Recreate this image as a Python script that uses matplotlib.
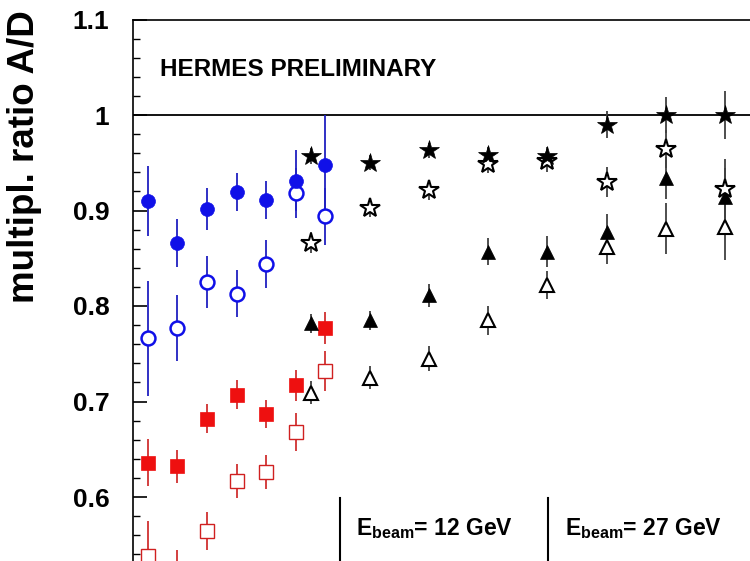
import matplotlib
matplotlib.use("Agg")
import matplotlib.pyplot as plt
from matplotlib.lines import Line2D
from matplotlib.ticker import MultipleLocator

plt.rcParams['font.family'] = ['Liberation Sans', 'DejaVu Sans']
plt.rcParams['mathtext.fontset'] = 'custom'
plt.rcParams['mathtext.rm'] = 'Liberation Sans:bold'
plt.rcParams['mathtext.bf'] = 'Liberation Sans:bold'
plt.rcParams['mathtext.it'] = 'Liberation Sans:bold'

# ---- data ----
nu12 = [2.5, 3.5, 4.5, 5.5, 6.5, 7.5, 8.5]
nu27 = [8, 10, 12, 14, 16, 18, 20, 22]

circ_filled = [0.910, 0.866, 0.902, 0.919, 0.911, 0.931, 0.948]
circ_filled_err = [0.037, 0.025, 0.022, 0.020, 0.020, 0.032, 0.052]
circ_open = [0.766, 0.777, 0.825, 0.813, 0.844, 0.918, 0.894]
circ_open_err = [0.060, 0.035, 0.027, 0.025, 0.025, 0.026, 0.030]
sq_filled = [0.636, 0.632, 0.682, 0.707, 0.687, 0.717, 0.777]
sq_filled_err = [0.025, 0.017, 0.015, 0.015, 0.015, 0.016, 0.017]
sq_open = [0.538, 0.520, 0.564, 0.617, 0.626, 0.668, 0.732]
sq_open_err = [0.037, 0.025, 0.020, 0.018, 0.018, 0.020, 0.021]

star_filled = [0.957, 0.950, 0.963, 0.958, 0.957, 0.990, 1.000, 1.000]
star_filled_err = [0.008, 0.008, 0.008, 0.008, 0.010, 0.014, 0.019, 0.025]
star_open = [0.866, 0.903, 0.921, 0.949, 0.952, 0.930, 0.964, 0.923]
star_open_err = [0.011, 0.010, 0.010, 0.010, 0.012, 0.016, 0.020, 0.031]
tri_filled = [0.782, 0.785, 0.811, 0.857, 0.857, 0.878, 0.934, 0.914]
tri_filled_err = [0.010, 0.010, 0.012, 0.014, 0.016, 0.018, 0.022, 0.030]
tri_open = [0.709, 0.725, 0.745, 0.785, 0.822, 0.862, 0.881, 0.883]
tri_open_err = [0.012, 0.012, 0.013, 0.015, 0.015, 0.018, 0.027, 0.035]

yticks = [0.6, 0.7, 0.8, 0.9, 1.0, 1.1]
ytick_labels = ['0.6', '0.7', '0.8', '0.9', '1', '1.1']

# ---- figure ----
W, H = 750, 561
fig = plt.figure(figsize=(W / 100, H / 100), dpi=100)
ax_left, ax_right = 133, 133 + 22 * 29.6
ax_top, ax_bot = 19.5, 19.5 + 6 * 95.5
ax = fig.add_axes([ax_left / W, (H - ax_bot) / H,
                   (ax_right - ax_left) / W, (ax_bot - ax_top) / H])
ax.set_xlim(2, 24)
ax.set_ylim(0.5, 1.1)

ax.axhline(1.0, color='black', lw=1.3, zorder=1)

blue = '#1010e8'
red = '#ee1010'
ebar_kw = dict(ls='none', elinewidth=1.3, capsize=0, zorder=3)

ax.errorbar(nu12, sq_open, yerr=sq_open_err, fmt='s', ms=9.5, mfc='white',
            mec='#d02020', mew=1.0, ecolor='#d03030', **ebar_kw)
ax.errorbar(nu12, sq_filled, yerr=sq_filled_err, fmt='s', ms=9.5, mfc=red,
            mec=red, mew=0.5, ecolor='#d03030', **ebar_kw)
ax.errorbar(nu12, circ_open, yerr=circ_open_err, fmt='o', ms=10, mfc='white',
            mec=blue, mew=1.8, ecolor='#2020c0', **ebar_kw)
ax.errorbar(nu12, circ_filled, yerr=circ_filled_err, fmt='o', ms=10, mfc=blue,
            mec=blue, mew=0.5, ecolor='#2020c0', **ebar_kw)

ax.errorbar(nu27, tri_open, yerr=tri_open_err, fmt='^', ms=10, mfc='white',
            mec='black', mew=1.5, ecolor='#404040', **ebar_kw)
ax.errorbar(nu27, tri_filled, yerr=tri_filled_err, fmt='^', ms=10, mfc='black',
            mec='black', mew=0.5, ecolor='#404040', **ebar_kw)
ax.errorbar(nu27, star_open, yerr=star_open_err, fmt='*', ms=15, mfc='white',
            mec='black', mew=1.5, ecolor='#404040', **ebar_kw)
ax.errorbar(nu27, star_filled, yerr=star_filled_err, fmt='*', ms=15, mfc='black',
            mec='black', mew=0.5, ecolor='#404040', **ebar_kw)

# ticks
ax.set_yticks(yticks)
ax.set_yticklabels(ytick_labels, fontsize=19, fontweight='bold')
ax.yaxis.set_minor_locator(MultipleLocator(0.02))
ax.tick_params(axis='y', which='major', direction='in', length=10, width=1.2, pad=17)
ax.tick_params(axis='y', which='minor', direction='in', length=5, width=1.0)
ax.tick_params(axis='x', labelbottom=False, direction='in')
for s in ax.spines.values():
    s.set_linewidth(1.2)

ax.text((160 - ax_left) / (ax_right - ax_left), (ax_bot - 76) / (ax_bot - ax_top),
        'HERMES PRELIMINARY', transform=ax.transAxes, fontsize=17.5,
        fontweight='bold', ha='left', va='baseline')

fig.text(25 / W, 1 - 157 / H, 'multipl. ratio A/D', rotation=90, fontsize=26.5,
         fontweight='bold', ha='center', va='center')

# beam energy legend separators
for xpx in (340, 548.3):
    fig.add_artist(Line2D([xpx / W, xpx / W], [1 - 498 / H, 0], transform=fig.transFigure,
                          color='black', lw=1.5))
fig.text(356 / W, 1 - 535 / H, r'$\mathrm{E_{beam}}$= 12 GeV', fontsize=16.5,
         fontweight='bold', ha='left', va='baseline')
fig.text(565 / W, 1 - 535 / H, r'$\mathrm{E_{beam}}$= 27 GeV', fontsize=16.5,
         fontweight='bold', ha='left', va='baseline')

fig.savefig('out.png', dpi=100)
